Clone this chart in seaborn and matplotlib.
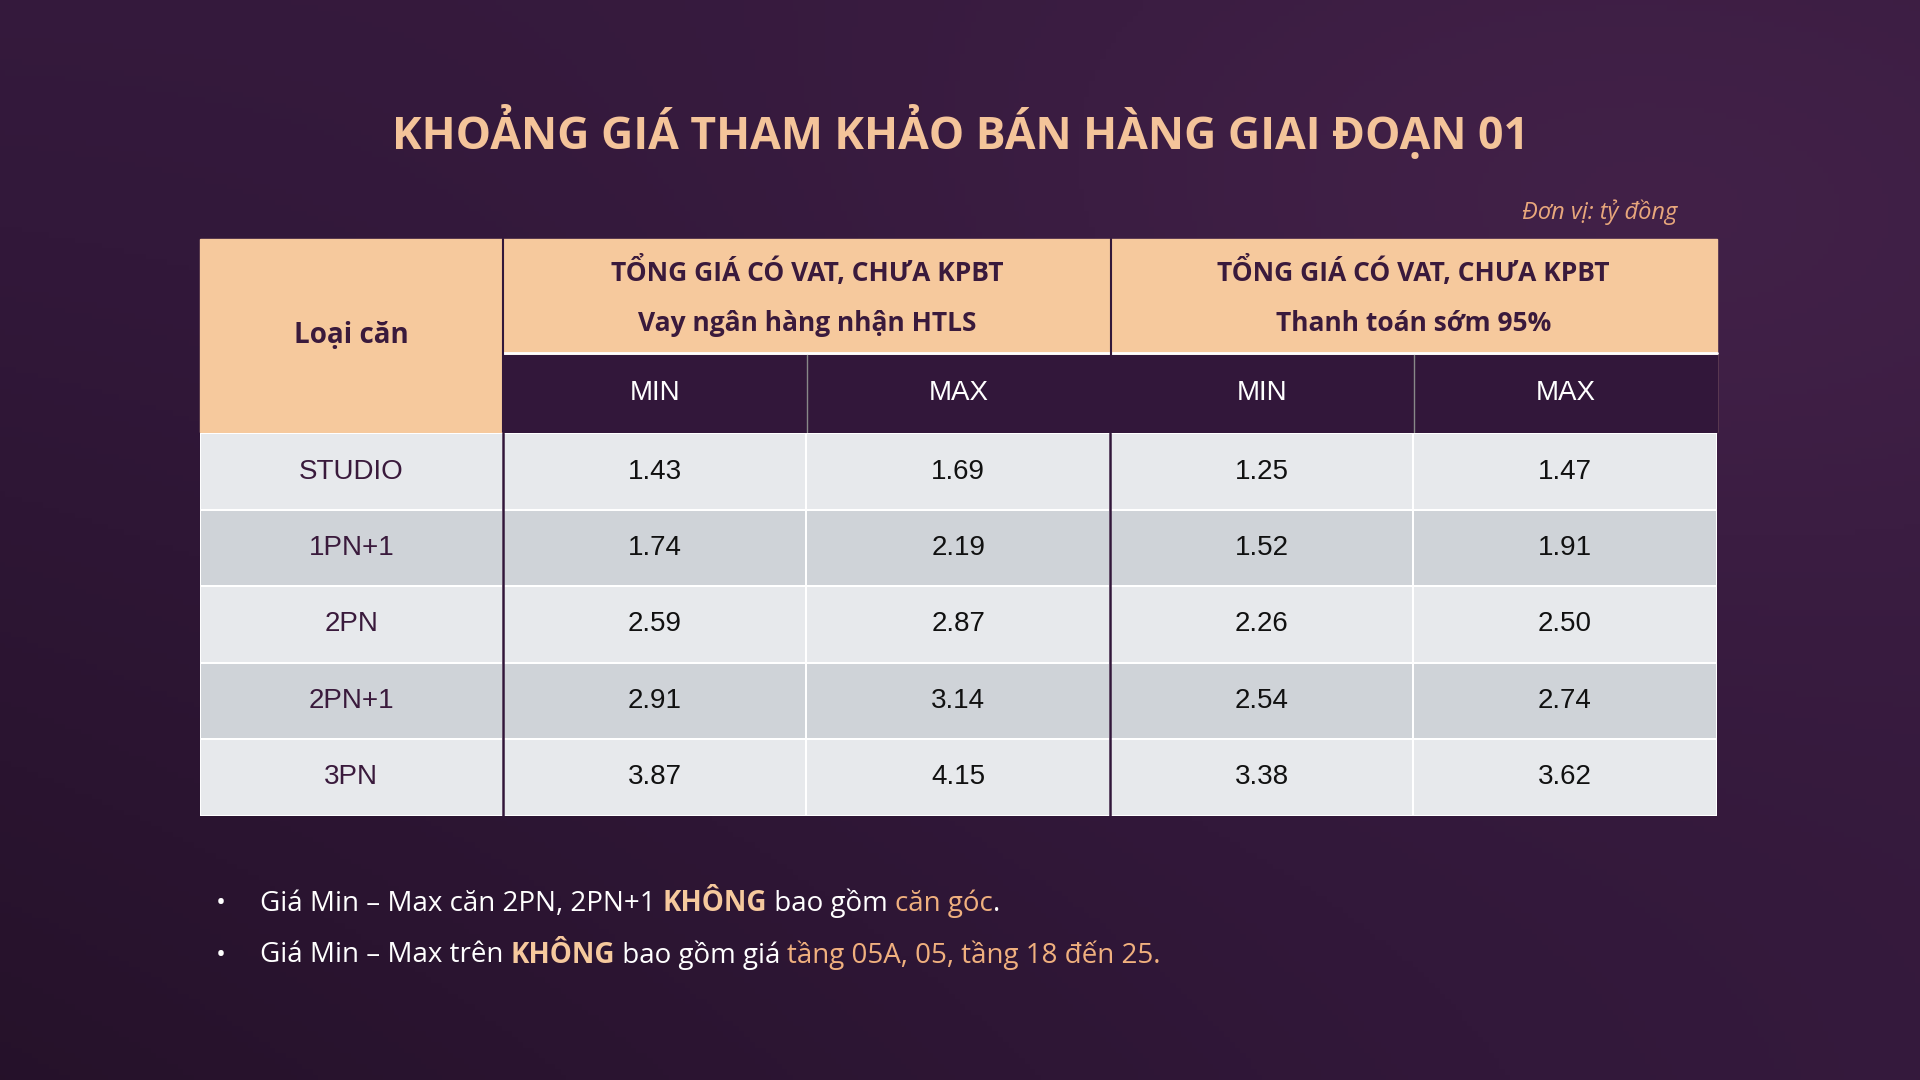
import numpy as np
import matplotlib
matplotlib.use("Agg")
import matplotlib.pyplot as plt
from matplotlib.colors import ListedColormap, LinearSegmentedColormap
import seaborn as sns

sns.set_theme(style="white")
plt.rcParams['font.family'] = ['Open Sans', 'Noto Sans', 'DejaVu Sans']

title = "KHOẢNG GIÁ THAM KHẢO BÁN HÀNG GIAI ĐOẠN 01"
unit = "Đơn vị: tỷ đồng"
row_header = "Loại căn"
group1 = ["TỔNG GIÁ CÓ VAT, CHƯA KPBT", "Vay ngân hàng nhận HTLS"]
group2 = ["TỔNG GIÁ CÓ VAT, CHƯA KPBT", "Thanh toán sớm 95%"]
sub_headers = ["MIN", "MAX", "MIN", "MAX"]
categories = ["STUDIO", "1PN+1", "2PN", "2PN+1", "3PN"]
loan_min = [1.43, 1.74, 2.59, 2.91, 3.87]
loan_max = [1.69, 2.19, 2.87, 3.14, 4.15]
early_min = [1.25, 1.52, 2.26, 2.54, 3.38]
early_max = [1.47, 1.91, 2.50, 2.74, 3.62]

W, H = 1568, 882
fig = plt.figure(figsize=(19.2, 10.8), dpi=100)
bg = fig.add_axes([0, 0, 1, 1])
bg.set_xlim(0, W); bg.set_ylim(H, 0); bg.axis("off")
yy, xx = np.mgrid[0:1:200j, 0:1:356j]
grad = 0.6 + 0.25 * np.exp(-((xx - 0.85) ** 2 + (yy - 0.2) ** 2) / 0.15) - 0.25 * yy * (1 - xx)
bgcmap = LinearSegmentedColormap.from_list("bg", ["#1c0d1e", "#32183a", "#44224a"])
bg.imshow(grad, extent=[0, W, H, 0], cmap=bgcmap, aspect="auto", vmin=0.2, vmax=0.9)

peach = "#f6c99d"
dark = "#32173a"
txtc = "#3a1a3c"
bg.text(784, 108, title, color="#f4c49a", fontsize=32, fontweight="bold", ha="center", va="center")
bg.text(1370, 173, unit, color="#e8a77c", fontsize=17, style="italic", ha="right", va="center")

L, R = 163, 1402
cx = [163, 411, 659, 907, 1155, 1402]
bg.add_patch(plt.Rectangle((L, 195), R - L, 158, color=peach, zorder=2))
bg.add_patch(plt.Rectangle((411, 290), R - 411, 63, color=dark, zorder=3))
bg.plot([411, R], [288, 288], color="white", lw=2, zorder=4)
for x in [411, 907]:
    bg.plot([x, x], [195, 353], color=dark, lw=1.5, zorder=4)
bg.plot([659, 659], [290, 353], color="#888", lw=1, zorder=4)
bg.plot([1155, 1155], [290, 353], color="#888", lw=1, zorder=4)
bg.text(287, 274, row_header, fontsize=20, fontweight="bold", color=txtc, ha="center", va="center", zorder=5)
for i, g in enumerate([group1, group2]):
    xc = (cx[1 + 2 * i] + cx[3 + 2 * i]) / 2
    bg.text(xc, 222, g[0], fontsize=19, fontweight="bold", color=txtc, ha="center", va="center", zorder=5)
    bg.text(xc, 264, g[1], fontsize=19, fontweight="bold", color=txtc, ha="center", va="center", zorder=5)
for j, s in enumerate(sub_headers):
    bg.text((cx[j + 1] + cx[j + 2]) / 2, 321, s, fontsize=20, color="white",
            family="Liberation Sans", ha="center", va="center", zorder=5)

ax = fig.add_axes([L / W, 1 - 666 / H, (R - L) / W, (666 - 354) / H])
stripes = np.array([[i % 2] * 5 for i in range(len(categories))])
annot = np.array([[c, f"{a:.2f}", f"{b:.2f}", f"{d:.2f}", f"{e:.2f}"]
                  for c, a, b, d, e in zip(categories, loan_min, loan_max, early_min, early_max)])
sns.heatmap(stripes, ax=ax, cmap=ListedColormap(["#e7e9ec", "#cfd3d8"]), cbar=False,
            annot=annot, fmt="", linewidths=1.2, linecolor="white",
            annot_kws={"fontsize": 20, "color": "#111", "family": "Liberation Sans"})
for t in ax.texts:
    if t.get_text() in categories:
        t.set_color(txtc)
ax.set_xticks([]); ax.set_yticks([])
for x in [1, 3]:
    ax.axvline(x, color=dark, lw=1.8)

notes = [
    [("Giá Min – Max căn 2PN, 2PN+1 ", "white", "normal"), ("KHÔNG", "#f6c99d", "bold"),
     (" bao gồm ", "white", "normal"), ("căn góc", "#f0b07e", "normal"), (".", "white", "normal")],
    [("Giá Min – Max trên ", "white", "normal"), ("KHÔNG", "#f6c99d", "bold"),
     (" bao gồm giá ", "white", "normal"), ("tầng 05A, 05, tầng 18 đến 25.", "#f0b07e", "normal")],
]
fig.canvas.draw()
r = fig.canvas.get_renderer()
for k, parts in enumerate(notes):
    y = 738 + 42 * k
    bg.text(180, y, "•", color="white", fontsize=19, ha="center", va="center")
    x = 212
    for txt, col, w in parts:
        t = bg.text(x, y, txt, color=col, fontsize=20, fontweight=w, ha="left", va="center")
        bb = t.get_window_extent(renderer=r)
        x += bb.width * W / fig.bbox.width

fig.savefig("out.png", dpi=100)
